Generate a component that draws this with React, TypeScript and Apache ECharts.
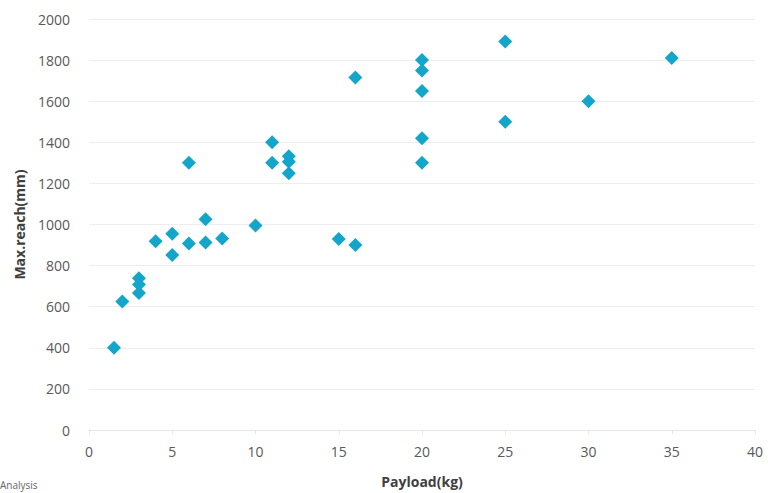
import React, { useEffect, useRef } from "react";
import * as echarts from "echarts";

const payloadKg = [1.5, 2, 3, 3, 3, 4, 5, 5, 6, 6, 7, 7, 8, 10, 11, 11, 12, 12, 12, 15, 16, 16, 20, 20, 20, 20, 20, 25, 25, 30, 35];
const maxReachMm = [400, 625, 738, 708, 667, 918, 955, 852, 1300, 908, 1025, 912, 932, 995, 1400, 1300, 1332, 1305, 1250, 930, 900, 1715, 1800, 1750, 1650, 1420, 1300, 1890, 1500, 1600, 1810];
const xTicks = { min: 0, max: 40, interval: 5 };
const yTicks = { min: 0, max: 2000, interval: 200 };

export default function App() {
  const ref = useRef<HTMLDivElement>(null);
  useEffect(() => {
    if (!ref.current) return;
    const chart = echarts.init(ref.current, null, { renderer: "svg" });
    const font = "'Open Sans', 'Noto Sans', sans-serif";
    const points = payloadKg.map((x, i) => [x, maxReachMm[i]]);
    chart.setOption({
      animation: false,
      grid: { left: 89, right: 13, top: 19, bottom: 63, containLabel: false },
      xAxis: {
        type: "value",
        ...xTicks,
        name: "Payload(kg)",
        nameLocation: "middle",
        nameGap: 44,
        nameTextStyle: { fontFamily: font, fontSize: 14, fontWeight: "bold", color: "#404040" },
        axisLine: { show: true, lineStyle: { color: "#e6e6e6" } },
        axisTick: { show: true, length: 4, lineStyle: { color: "#e6e6e6" } },
        axisLabel: { fontFamily: font, fontSize: 14, color: "#595959", margin: 14 },
        splitLine: { show: false },
      },
      yAxis: {
        type: "value",
        ...yTicks,
        name: "Max.reach(mm)",
        nameLocation: "middle",
        nameGap: 63,
        nameTextStyle: { fontFamily: font, fontSize: 14, fontWeight: "bold", color: "#404040" },
        axisLine: { show: false },
        axisTick: { show: false },
        axisLabel: { fontFamily: font, fontSize: 14, color: "#595959", margin: 19, formatter: (v: number) => String(v) },
        splitLine: { show: true, lineStyle: { color: "#ededed" } },
      },
      graphic: [
        {
          type: "text",
          left: 0,
          top: 480,
          style: { text: "Analysis", fontFamily: font, fontSize: 10, fill: "#666" },
        },
      ],
      series: [
        {
          type: "scatter",
          symbol: "diamond",
          symbolSize: 14,
          itemStyle: { color: "#13A6CA", opacity: 1 },
          data: points,
        },
      ],
    });
    return () => chart.dispose();
  }, []);
  return <div ref={ref} style={{ width: 768, height: 493, position: "absolute", left: 0, top: 0 }} />;
}
